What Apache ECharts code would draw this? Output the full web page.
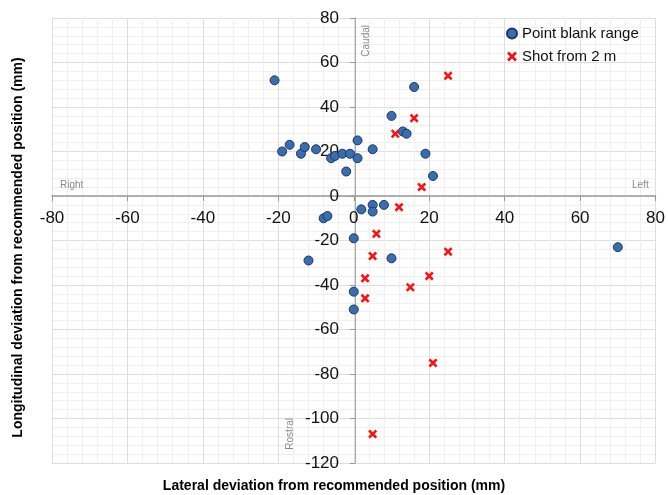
<!DOCTYPE html>
<html>
<head>
<meta charset="utf-8">
<script src="https://cdn.jsdelivr.net/npm/echarts@6/dist/echarts.min.js"></script>
<style>
  html, body { margin: 0; padding: 0; background: #fff; }
  #chart { width: 668px; height: 495px; }
</style>
</head>
<body>
<div id="chart"></div>
<script>
// lateral (x) / longitudinal (y) deviation in mm
const pointBlank = [
  [-21, 52], [-19, 20], [-17, 23], [-14, 19], [-13, 22], [-10, 21],
  [-6, 17], [-5, 18], [-3, 19], [-2, 11], [-1, 19], [1, 25], [1, 17],
  [5, 21], [10, 36], [13, 29], [14, 28], [16, 49], [19, 19], [21, 9],
  [2, -6], [5, -4], [5, -7], [8, -4], [-8, -10], [-7, -9], [0, -19],
  [-12, -29], [10, -28], [0, -43], [0, -51], [70, -23]
]
const shotFrom2m = [
  [25, 54], [16, 35], [11, 28], [18, 4], [12, -5], [6, -17], [5, -27],
  [25, -25], [3, -37], [20, -36], [15, -41], [3, -46], [21, -75], [5, -107]
]
const seriesNames = ['Point blank range', 'Shot from 2 m']
const xRange = [-80, 80]
const yRange = [-120, 80]

const crossIcon = 'path://M0,2 L2,0 L5,3 L8,0 L10,2 L7,5 L10,8 L8,10 L5,7 L2,10 L0,8 L3,5 Z'
const font = '"Liberation Sans", Arial, Helvetica, sans-serif'

// grid box in px; the axes are moved in to cross at (0, 0)
const grid = { left: 52, right: 10, top: 18, bottom: 32 }
const plotW = 668 - grid.left - grid.right
const plotH = 495 - grid.top - grid.bottom
const yAxisShift = -plotW * (0 - xRange[0]) / (xRange[1] - xRange[0])
const xAxisShift = -plotH * (0 - yRange[0]) / (yRange[1] - yRange[0])

const chart = echarts.init(document.getElementById('chart'), null, { renderer: 'canvas' })

const axisCommon = {
  type: 'value',
  interval: 20,
  minorTick: { show: false, splitNumber: 5 },
  minorSplitLine: { show: true, lineStyle: { color: '#f0f0f0', width: 1 } },
  splitLine: { show: true, lineStyle: { color: '#dedede', width: 1 } },
  axisLine: { show: true, onZero: false, lineStyle: { color: '#999', width: 1.5 } },
  axisTick: { show: true, length: 5, lineStyle: { color: '#999' } },
  axisLabel: { color: '#111', fontSize: 17, fontFamily: font }
}

const annot = (text, left, top, rotation) => ({
  type: 'text', left, top, rotation: rotation || 0, z: 100,
  style: { text, fill: '#8a8a8a', font: '10px ' + font }
})

chart.setOption({
  backgroundColor: '#fff',
  animation: false,
  grid,
  xAxis: {
    ...axisCommon,
    position: 'bottom',
    offset: xAxisShift,
    min: xRange[0], max: xRange[1],
    axisLabel: { ...axisCommon.axisLabel, margin: 14 }
  },
  yAxis: {
    ...axisCommon,
    position: 'left',
    offset: yAxisShift,
    min: yRange[0], max: yRange[1],
    axisLine: { ...axisCommon.axisLine, lineStyle: { color: '#aaa', width: 1 } },
    axisLabel: { ...axisCommon.axisLabel, margin: 16 }
  },
  legend: {
    orient: 'vertical',
    left: 501, top: 21,
    itemWidth: 10, itemHeight: 10, itemGap: 8,
    textStyle: { fontSize: 15, color: '#111', fontFamily: font },
    data: [
      { name: seriesNames[0], icon: 'circle' },
      { name: seriesNames[1], icon: crossIcon }
    ]
  },
  series: [
    {
      name: seriesNames[0], type: 'scatter', data: pointBlank,
      symbol: 'circle', symbolSize: 9,
      itemStyle: { color: '#3a6db0', borderColor: '#1b3a63', borderWidth: 1, opacity: 1 }
    },
    {
      name: seriesNames[1], type: 'scatter', data: shotFrom2m,
      symbol: crossIcon, symbolSize: 9,
      itemStyle: { color: '#ff1010', opacity: 1 }
    }
  ],
  graphic: [
    annot('Right', 60, 180),
    annot('Left', 632, 180),
    annot('Caudal', 361, 25, Math.PI / 2),
    annot('Rostral', 285, 418, Math.PI / 2),
    {
      type: 'text', left: 'center', top: 479,
      style: { text: 'Lateral deviation from recommended position (mm)', fill: '#000',
        font: 'bold 14px ' + font }
    },
    {
      type: 'text', left: 11, top: 'middle', rotation: Math.PI / 2,
      style: { text: 'Longitudinal deviation from recommended position (mm)', fill: '#000',
        font: 'bold 14px ' + font }
    }
  ]
})
</script>
</body>
</html>
